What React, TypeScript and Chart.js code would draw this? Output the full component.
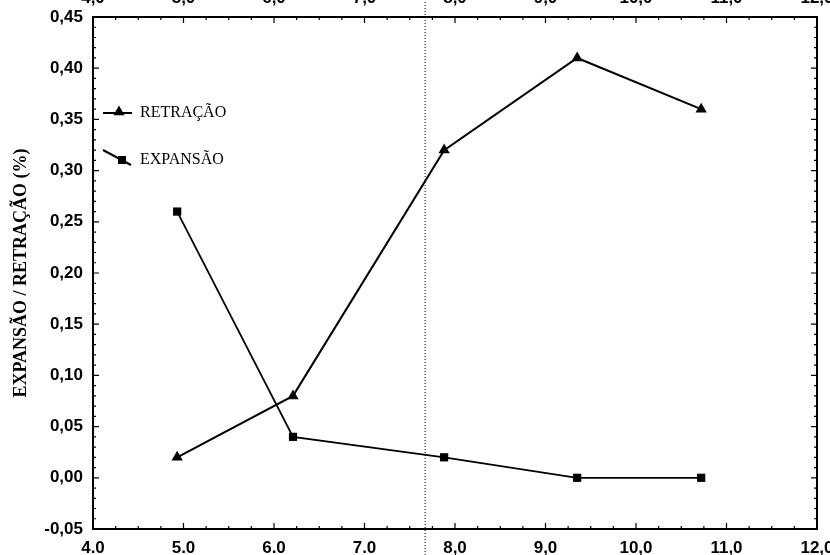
import React, { useEffect, useRef } from "react";
import { Chart, registerables } from "chart.js";

Chart.register(...registerables);

// pH of each specimen and the measured dimensional change (%)
const phValues = [4.93, 6.21, 7.88, 9.35, 10.72];
const retracao = [0.02, 0.08, 0.32, 0.41, 0.36];
const expansao = [0.26, 0.04, 0.02, 0.0, 0.0];

const seriesNames = ["RETRAÇÃO", "EXPANSÃO"];
const yTitle = "EXPANSÃO / RETRAÇÃO (%)";

const xTickValues = [4, 5, 6, 7, 8, 9, 10, 11, 12];
const xTickLabels = ["4.0", "5.0", "6.0", "7.0", "8,0", "9,0", "10,0", "11,0", "12,0"];
const xTopLabels = ["4,0", "5,0", "6,0", "7,0", "8,0", "9,0", "10,0", "11,0", "12,0"];
const yTickValues = [-0.05, 0, 0.05, 0.1, 0.15, 0.2, 0.25, 0.3, 0.35, 0.4, 0.45];
const yTickLabels = ["-0,05", "0,00", "0,05", "0,10", "0,15", "0,20", "0,25", "0,30", "0,35", "0,40", "0,45"];

// reference line (dotted vertical)
const markerX = 7.67;

const X_MIN = 4;
const X_MAX = 12;
const Y_MIN = -0.05;
const Y_MAX = 0.45;

const tickFont = { family: '"Liberation Sans", Arial, sans-serif', size: 17, weight: "bold" as const };

function drawTriangle(ctx: CanvasRenderingContext2D, x: number, y: number, r: number) {
  ctx.beginPath();
  ctx.moveTo(x, y - r);
  ctx.lineTo(x + r * 0.866, y + r * 0.5);
  ctx.lineTo(x - r * 0.866, y + r * 0.5);
  ctx.closePath();
  ctx.fill();
}

const framePlugin = {
  id: "frameTicksLegend",
  beforeDatasetsDraw(chart: any) {
    const { ctx, chartArea } = chart;
    const { left, right, top, bottom } = chartArea;
    const xs = chart.scales.x;
    const ys = chart.scales.y;
    ctx.save();
    ctx.strokeStyle = "#000";

    // dotted vertical reference line across the whole figure
    const mx = xs.getPixelForValue(markerX);
    ctx.lineWidth = 1;
    ctx.setLineDash([1, 2]);
    ctx.beginPath();
    ctx.moveTo(mx, 0);
    ctx.lineTo(mx, chart.height);
    ctx.stroke();
    ctx.setLineDash([]);

    // frame
    ctx.lineWidth = 2;
    ctx.strokeRect(left, top, right - left, bottom - top);

    // inward ticks on y (left and right)
    ctx.lineWidth = 1.2;
    for (let i = 0; i <= 50; i++) {
      const v = Y_MIN + i * 0.01;
      const py = ys.getPixelForValue(v);
      const len = i % 5 === 0 ? 6 : 3;
      ctx.beginPath();
      ctx.moveTo(left, py);
      ctx.lineTo(left + len, py);
      ctx.moveTo(right, py);
      ctx.lineTo(right - len, py);
      ctx.stroke();
    }
    // inward ticks on x (bottom and top)
    for (let i = 0; i <= 32; i++) {
      const v = X_MIN + i * 0.25;
      const px = xs.getPixelForValue(v);
      const len = i % 4 === 0 ? 6 : 3;
      ctx.beginPath();
      ctx.moveTo(px, bottom);
      ctx.lineTo(px, bottom - len);
      ctx.moveTo(px, top);
      ctx.lineTo(px, top + len);
      ctx.stroke();
    }
    ctx.restore();
  },
  afterDraw(chart: any) {
    const { ctx, chartArea } = chart;
    const { left, top } = chartArea;
    ctx.save();
    ctx.fillStyle = "#000";
    ctx.strokeStyle = "#000";
    ctx.lineWidth = 2;

    // RETRAÇÃO entry
    ctx.beginPath();
    ctx.moveTo(left + 10, top + 96);
    ctx.lineTo(left + 39, top + 96);
    ctx.stroke();
    drawTriangle(ctx, left + 26, top + 95, 6.5);

    // EXPANSÃO entry
    ctx.beginPath();
    ctx.moveTo(left + 10, top + 133);
    ctx.lineTo(left + 38, top + 148);
    ctx.stroke();
    ctx.fillRect(left + 25, top + 139, 8, 8);

    ctx.font = '16px "Liberation Serif", "Times New Roman", serif';
    ctx.textBaseline = "middle";
    ctx.textAlign = "left";
    ctx.fillText(seriesNames[0], left + 47, top + 96);
    ctx.fillText(seriesNames[1], left + 47, top + 143);
    ctx.restore();
  },
};

export default function App() {
  const canvasRef = useRef<HTMLCanvasElement | null>(null);

  useEffect(() => {
    const canvas = canvasRef.current;
    if (!canvas) return;

    const chart = new Chart(canvas, {
      type: "line",
      data: {
        datasets: [
          {
            label: seriesNames[0],
            data: phValues.map((x, i) => ({ x, y: retracao[i] })),
            xAxisID: "x",
            yAxisID: "y",
            borderColor: "#000",
            backgroundColor: "#000",
            borderWidth: 2,
            pointStyle: "triangle",
            pointRadius: 6.5,
            pointBorderWidth: 0,
            tension: 0,
          },
          {
            label: seriesNames[1],
            data: phValues.map((x, i) => ({ x, y: expansao[i] })),
            xAxisID: "x",
            yAxisID: "y",
            borderColor: "#000",
            backgroundColor: "#000",
            borderWidth: 1.8,
            pointStyle: "rect",
            pointRadius: 5.8,
            pointBorderWidth: 0,
            tension: 0,
          },
        ],
      },
      options: {
        responsive: false,
        animation: false,
        devicePixelRatio: 1,
        layout: { padding: { top: 0, left: 0, right: 13, bottom: 0 } },
        plugins: {
          legend: { display: false },
          tooltip: { enabled: false },
        },
        scales: {
          x: {
            type: "linear",
            position: "bottom",
            min: X_MIN,
            max: X_MAX,
            afterBuildTicks: (s: any) => {
              s.ticks = xTickValues.map((value) => ({ value }));
            },
            ticks: {
              callback: (_v: any, i: number) => xTickLabels[i],
              font: tickFont,
              color: "#000",
              padding: 9,
              maxRotation: 0,
              autoSkip: false,
            },
            grid: { display: false, drawTicks: false },
            border: { display: false },
            afterFit: (s: any) => {
              s.height = 26;
              s.paddingLeft = 0;
              s.paddingRight = 0;
            },
          },
          xTop: {
            type: "linear",
            position: "top",
            min: X_MIN,
            max: X_MAX,
            afterBuildTicks: (s: any) => {
              s.ticks = xTickValues.map((value) => ({ value }));
            },
            ticks: {
              callback: (_v: any, i: number) => xTopLabels[i],
              font: tickFont,
              color: "#000",
              padding: 8,
              maxRotation: 0,
              autoSkip: false,
            },
            grid: { display: false, drawTicks: false },
            border: { display: false },
            afterFit: (s: any) => {
              s.height = 27;
              s.paddingLeft = 0;
              s.paddingRight = 0;
            },
          },
          y: {
            type: "linear",
            position: "left",
            min: Y_MIN,
            max: Y_MAX,
            afterBuildTicks: (s: any) => {
              s.ticks = yTickValues.map((value) => ({ value }));
            },
            ticks: {
              callback: (_v: any, i: number) => yTickLabels[i],
              font: tickFont,
              color: "#000",
              padding: 10,
              autoSkip: false,
            },
            grid: { display: false, drawTicks: false },
            border: { display: false },
            title: {
              display: true,
              text: yTitle,
              color: "#000",
              font: { family: '"Liberation Serif", "Times New Roman", serif', size: 18, weight: "bold" },
              padding: { top: 11, bottom: 0 },
            },
            afterFit: (s: any) => {
              s.width = 93;
              s.paddingTop = 0;
              s.paddingBottom = 0;
            },
          },
        },
      },
      plugins: [framePlugin],
    });

    return () => chart.destroy();
  }, []);

  return (
    <div style={{ position: "absolute", left: 0, top: -10, width: 830, height: 565, background: "#fff" }}>
      <canvas ref={canvasRef} width={830} height={565} style={{ display: "block", width: 830, height: 565 }} />
    </div>
  );
}
